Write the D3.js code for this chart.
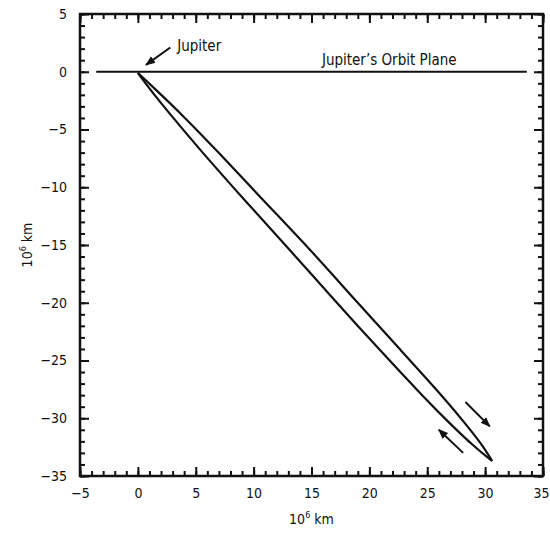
<!DOCTYPE html>
<html>
<head>
<meta charset="utf-8">
<script src="https://cdn.jsdelivr.net/npm/d3@7"></script>
<style>
  body { margin: 0; background: #fff; }
  svg text { font-family: "Liberation Sans Narrow", "DejaVu Sans Condensed", "Arial Narrow", sans-serif; fill: #111; }
  .axis line { stroke: #111; stroke-width: 2; }
  .axis path { display: none; }
  .axis text { font-size: 14px; }
</style>
</head>
<body>
<svg id="chart" width="550" height="535"></svg>
<script>
// orbit, in 10^6 km
var outerSide = [[0.0,-0.1],[1.6,-1.6],[3.8,-3.7],[6.8,-6.8],[10.8,-11.1],[14.9,-15.4],
                 [18.8,-19.8],[22.7,-24.1],[26.6,-28.4],[28.4,-30.6],[29.9,-32.5],[30.6,-33.7]];
var innerSide = [[30.6,-33.7],[29.1,-32.5],[27.1,-30.6],[24.9,-28.4],[20.9,-24.1],[17.0,-19.8],
                 [13.1,-15.4],[9.2,-11.1],[5.4,-6.8],[2.8,-3.7],[1.1,-1.6],[0.0,-0.1]];
var orbitPlane = [[-3.6,0],[33.6,0]];
var xTicks = [-5,0,5,10,15,20,25,30,35];
var yTicks = [5,0,-5,-10,-15,-20,-25,-30,-35];
// arrows: [tail, head]
var jupiterArrow = [[2.8,2.1],[0.7,0.6]];
var motionArrows = [
  [[28.3,-28.6],[30.4,-30.7]],
  [[28.1,-33.0],[26.0,-31.0]]
];

var svg = d3.select("#chart"),
    margin = {top: 14, right: 7, bottom: 59, left: 80},
    width = +svg.attr("width") - margin.left - margin.right,
    height = +svg.attr("height") - margin.top - margin.bottom,
    g = svg.append("g").attr("transform", "translate(" + margin.left + "," + margin.top + ")");

var x = d3.scaleLinear().domain([-5, 35]).range([0, width]);
var y = d3.scaleLinear().domain([-35, 5]).range([height, 0]);

var minorX = d3.range(-5, 36, 1), minorY = d3.range(-35, 6, 1);

// minor ticks on all four sides
g.append("g").attr("class", "axis").attr("transform", "translate(0," + height + ")")
    .call(d3.axisBottom(x).tickValues(minorX).tickSize(-5).tickFormat(""));
g.append("g").attr("class", "axis")
    .call(d3.axisTop(x).tickValues(minorX).tickSize(-5).tickFormat(""));
g.append("g").attr("class", "axis")
    .call(d3.axisLeft(y).tickValues(minorY).tickSize(-5).tickFormat(""));
g.append("g").attr("class", "axis").attr("transform", "translate(" + width + ",0)")
    .call(d3.axisRight(y).tickValues(minorY).tickSize(-5).tickFormat(""));

// major ticks + labels
var xAxis = g.append("g").attr("class", "axis").attr("transform", "translate(0," + height + ")")
    .call(d3.axisBottom(x).tickValues(xTicks).tickSize(-9).tickPadding(12));
// last label sits against the page edge, nudge it in
xAxis.selectAll(".tick text").filter(function(d) { return d === 35; }).attr("dx", "-2");
g.append("g").attr("class", "axis")
    .call(d3.axisTop(x).tickValues(xTicks).tickSize(-9).tickFormat(""));
g.append("g").attr("class", "axis")
    .call(d3.axisLeft(y).tickValues(yTicks).tickSize(-9).tickPadding(13));
g.append("g").attr("class", "axis").attr("transform", "translate(" + width + ",0)")
    .call(d3.axisRight(y).tickValues(yTicks).tickSize(-9).tickFormat(""));

// frame
g.append("rect")
    .attr("width", width).attr("height", height)
    .attr("fill", "none").attr("stroke", "#111").attr("stroke-width", 2.5);

// axis titles
var xt = g.append("text")
    .attr("x", width / 2).attr("y", height + 48)
    .attr("text-anchor", "middle").style("font-size", "14px");
xt.append("tspan").text("10");
xt.append("tspan").attr("dy", -6).style("font-size", "9px").text("6");
xt.append("tspan").attr("dy", 6).text(" km");

var yt = g.append("text")
    .attr("transform", "translate(-48," + (height / 2) + ") rotate(-90)")
    .attr("text-anchor", "middle").style("font-size", "14px");
yt.append("tspan").text("10");
yt.append("tspan").attr("dy", -6).style("font-size", "9px").text("6");
yt.append("tspan").attr("dy", 6).text(" km");

var line = d3.line()
    .x(function(d) { return x(d[0]); })
    .y(function(d) { return y(d[1]); });

// Jupiter's orbit plane
g.append("path")
    .datum(orbitPlane)
    .attr("d", line)
    .attr("stroke", "#111").attr("stroke-width", 2).attr("fill", "none");

g.append("text")
    .attr("x", x(15.9)).attr("y", y(0.55))
    .style("font-size", "15px")
    .text("Jupiter\u2019s Orbit Plane");

// orbit
var curve = d3.line()
    .x(function(d) { return x(d[0]); })
    .y(function(d) { return y(d[1]); })
    .curve(d3.curveBasis);

[outerSide, innerSide].forEach(function(side) {
  g.append("path")
      .datum(side)
      .attr("d", curve)
      .attr("fill", "none")
      .attr("stroke", "#111")
      .attr("stroke-width", 2.2)
      .attr("stroke-linejoin", "miter");
});

// arrows
svg.append("defs").append("marker")
    .attr("id", "head")
    .attr("viewBox", "0 0 10 10")
    .attr("refX", 9).attr("refY", 5)
    .attr("markerWidth", 5).attr("markerHeight", 5)
    .attr("orient", "auto")
  .append("path")
    .attr("d", "M0,1L10,5L0,9Z")
    .attr("fill", "#111");

[jupiterArrow].concat(motionArrows).forEach(function(a) {
  g.append("path")
      .datum(a)
      .attr("d", line)
      .attr("stroke", "#111").attr("stroke-width", 2)
      .attr("fill", "none")
      .attr("marker-end", "url(#head)");
});

g.append("text")
    .attr("x", x(3.4)).attr("y", y(1.8))
    .style("font-size", "15px")
    .text("Jupiter");
</script>
</body>
</html>
